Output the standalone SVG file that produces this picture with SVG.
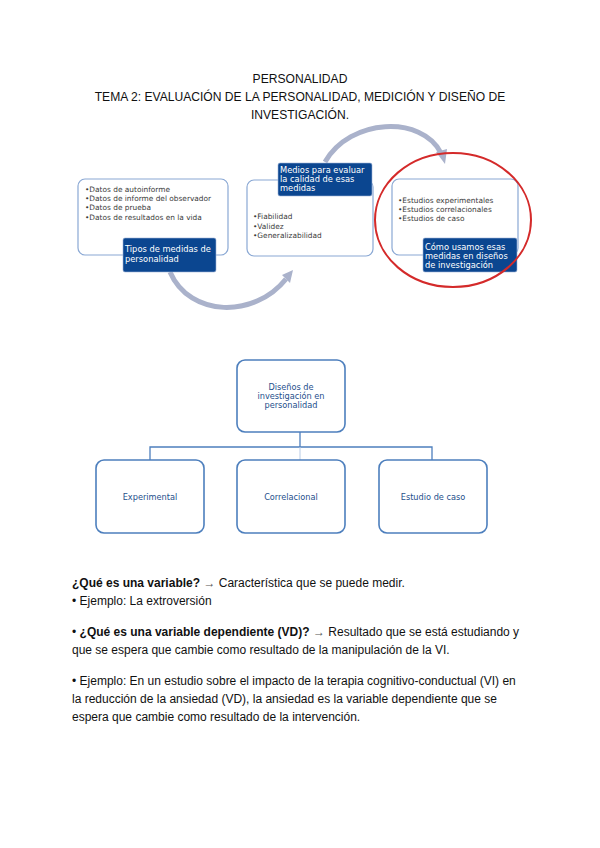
<svg xmlns="http://www.w3.org/2000/svg" width="600" height="848" viewBox="0 0 600 848">
<style>
.title{font-family:"Liberation Sans",Arial,sans-serif;font-size:12.1px;fill:#111;text-anchor:middle}
.card{fill:#fff;stroke:#8aa8d4;stroke-width:1.2}
.lab{fill:#0b4690;stroke:#9fb4d6;stroke-width:0.6}
.labt{font-family:"DejaVu Sans",Verdana,sans-serif;font-size:8.3px;fill:#fff}
.bul{font-family:"DejaVu Sans",Verdana,sans-serif;font-size:7.4px;fill:#3a3a3a}
.arc{fill:none;stroke:#aab2cb;stroke-width:5}
.ah{fill:#aab2cb}
.box{fill:#fff;stroke:#4d7fbd;stroke-width:1.6}
.boxt{font-family:"DejaVu Sans",Verdana,sans-serif;font-size:8.2px;fill:#1e4f8c;text-anchor:middle}
.tree{fill:none;stroke:#4d7fbd;stroke-width:1.3}
.body{font-family:"Liberation Sans",Arial,sans-serif;font-size:12px;fill:#111}
.b{font-weight:bold}
</style>

<g id="title">
<text class="title" x="300" y="83">PERSONALIDAD</text>
<text class="title" x="300" y="101">TEMA 2: EVALUACIÓN DE LA PERSONALIDAD, MEDICIÓN Y DISEÑO DE</text>
<text class="title" x="300" y="119">INVESTIGACIÓN.</text>
</g>

<g id="connectors">
<path class="arc" d="M170,272 C190,318 255,318 286,279"/>
<polygon class="ah" points="293,270 282,275 290,283"/>
<path class="arc" d="M325,162 C350,118 422,115 441,153"/>
<polygon class="ah" points="445,164 436,152 447,149"/>
<path class="tree" d="M300,432 V447 M150,460 V447 H432 V460"/>
<path d="M300,447 V460" fill="none" stroke="#b8cbe6" stroke-width="1"/>
</g>

<g id="card1">
<rect class="card" x="78" y="179" width="150" height="76" rx="7"/>
<text class="bul" x="85" y="192">•Datos de autoinforme</text>
<text class="bul" x="85" y="201">•Datos de informe del observador</text>
<text class="bul" x="85" y="210">•Datos de prueba</text>
<text class="bul" x="85" y="220">•Datos de resultados en la vida</text>
<rect class="lab" x="123" y="238" width="93" height="34" rx="2"/>
<text class="labt" x="125" y="252">Tipos de medidas de</text>
<text class="labt" x="125" y="262">personalidad</text>
</g>

<g id="card2">
<rect class="card" x="247" y="180" width="126" height="76" rx="7"/>
<text class="bul" x="253" y="219">•Fiabilidad</text>
<text class="bul" x="253" y="229">•Validez</text>
<text class="bul" x="253" y="238">•Generalizabilidad</text>
<rect class="lab" x="278" y="163" width="94" height="33" rx="2"/>
<text class="labt" x="280" y="173">Medios para evaluar</text>
<text class="labt" x="280" y="182">la calidad de esas</text>
<text class="labt" x="280" y="191">medidas</text>
</g>

<g id="card3">
<rect class="card" x="392" y="179" width="126" height="76" rx="7"/>
<text class="bul" x="398" y="203">•Estudios experimentales</text>
<text class="bul" x="398" y="212">•Estudios correlacionales</text>
<text class="bul" x="398" y="221">•Estudios de caso</text>
<rect class="lab" x="423" y="238" width="94" height="34" rx="2"/>
<text class="labt" x="425" y="250">Cómo usamos esas</text>
<text class="labt" x="425" y="259">medidas en diseños</text>
<text class="labt" x="425" y="268">de investigación</text>
</g>

<g id="highlight">
<ellipse cx="453" cy="220" rx="78" ry="67" fill="none" stroke="#d42a2a" stroke-width="2"/>
</g>

<g id="root">
<rect class="box" x="237" y="360" width="108" height="72" rx="8"/>
<text class="boxt" x="291" y="390">Diseños de</text>
<text class="boxt" x="291" y="399">investigación en</text>
<text class="boxt" x="291" y="408">personalidad</text>
</g>
<g id="experimental">
<rect class="box" x="96" y="460" width="108" height="73" rx="8"/>
<text class="boxt" x="150" y="500">Experimental</text>
</g>
<g id="correlacional">
<rect class="box" x="237" y="460" width="108" height="73" rx="8"/>
<text class="boxt" x="291" y="500">Correlacional</text>
</g>
<g id="caso">
<rect class="box" x="379" y="460" width="108" height="73" rx="8"/>
<text class="boxt" x="433" y="500">Estudio de caso</text>
</g>

<g id="notes">
<text class="body" x="72" y="587"><tspan class="b">¿Qué es una variable?</tspan> <tspan fill="#555">→</tspan> Característica que se puede medir.</text>
<text class="body" x="72" y="605">• Ejemplo: La extroversión</text>
<text class="body" x="72" y="636">• <tspan class="b">¿Qué es una variable dependiente (VD)?</tspan> <tspan fill="#555">→</tspan> Resultado que se está estudiando y</text>
<text class="body" x="72" y="654">que se espera que cambie como resultado de la manipulación de la VI.</text>
<text class="body" x="72" y="685">• Ejemplo: En un estudio sobre el impacto de la terapia cognitivo-conductual (VI) en</text>
<text class="body" x="72" y="703">la reducción de la ansiedad (VD), la ansiedad es la variable dependiente que se</text>
<text class="body" x="72" y="721">espera que cambie como resultado de la intervención.</text>
</g>
</svg>
